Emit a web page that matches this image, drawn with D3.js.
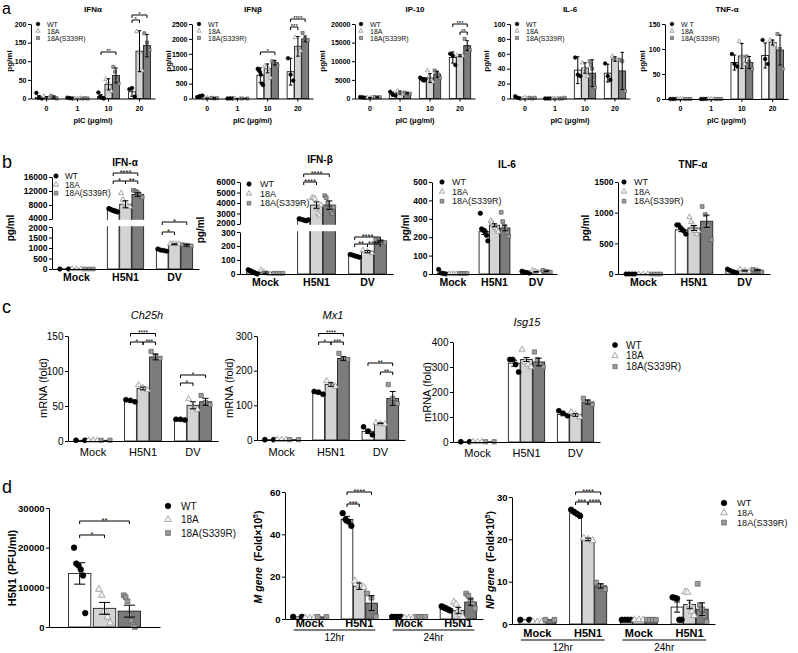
<!DOCTYPE html>
<html><head><meta charset="utf-8">
<script src="https://cdn.jsdelivr.net/npm/d3@7"></script>
<style>body{margin:0;background:#fff}svg{display:block}text{font-family:'Liberation Sans',Arial,Helvetica,sans-serif}</style>
</head><body><svg id="c" width="798" height="653"></svg>
<script>
// ---------- shared ----------
const seriesNames = ["WT","18A","18A(S339R)"];
const seriesNamesTNF = ["W T","18A","18A(S339R)"];
const groupsA = ["0","1","10","20"];
const groupsB = ["Mock","H5N1","DV"];
const groupsD1 = ["H5N1"];
const groupsD2 = ["Mock 12hr","H5N1 12hr","Mock 24hr","H5N1 24hr"];
const groupLabelsD2 = ["Mock","H5N1","Mock","H5N1"];
const timeLabels = ["12hr","24hr"];

// ---------- tick labels ----------
const ticksA1 = [0,50,100,150,200];
const ticksA2 = [0,500,1000,1500,2000,2500];
const ticksA3 = [0,5000,10000,15000,20000];
const ticksA4 = [0,20,40,60,80,100];
const ticksA5 = [0,50,100,150];
const ticksB1lo = [0,500,1000,1500,2000], ticksB1hi = [4000,8000,12000,16000];
const ticksB2lo = [0,100,200,300], ticksB2hi = [2000,3000,4000,5000,6000];
const ticksB3 = [0,100,200,300,400,500];
const ticksB4 = [0,500,1000,1500];
const ticksC1 = [0,50,100,150];
const ticksC2 = [0,100,200,300];
const ticksC3 = [0,100,200,300,400];
const ticksD1 = [0,10000,20000,30000];
const ticksD2 = [0,20,40,60];
const ticksD3 = [0,10,20,30];

// ---------- data: [group][series] ----------
const a1Mean = [[3,3,4],[1,0.5,0.5],[5,38,62],[18,127,142]];
const a1Err  = [[5,2,3],[1,0,0],[5,15,20],[12,55,30]];
const a1Pts  = [[[15,2,0],[6,0,2],[7,2,0]],[[2,1,0],[0,0,1],[0,1,0]],[[16,5,2,0],[52,45,30,20],[85,72,50,40]],[[25,28,5],[180,125,75],[175,150,130]]];

const a2Mean = [[65,8,12],[5,2,2],[780,1010,1200],[900,1750,2000]];
const a2Err  = [[25,10,10],[3,2,2],[250,150,80],[450,330,100]];
const a2Pts  = [[[50,80,100],[0,20,0],[20,0,10]],[[0,5,0],[0,0],[0,0]],[[1000,950,900,800,500,450],[1100,1050,1000,700],[1250,1200,1150,1100]],[[1350,800,600],[2050,1700,1600],[2200,2000,1950]]];

const a3Mean = [[300,200,350],[1200,1600,1400],[5200,5500,6500],[11000,11500,14200]];
const a3Err  = [[100,80,100],[500,400,200],[400,1200,800],[1500,200,1300]];
const a3Pts  = [[[400,300,200],[200,150,250],[400,300,350]],[[1800,1000,800],[2000,1500,1200],[1600,1300,1300]],[[5600,5300,5000,4800,5200],[7500,6000,5000,4500],[7500,7000,6500,5500]],[[12000,11500,9000],[11600,11400,11500],[16000,13500,13000]]];

const a4Mean = [[1,0.5,0.5],[0.5,0.5,0.5],[38,41,34],[34,53,37]];
const a4Err  = [[1,0,0],[0,0,0],[18,7,18],[12,3,25]];
const a4Pts  = [[[3,1,0],[0,1,0],[1,0,1]],[[0,0,0],[0,0,0],[0,0,1]],[[55,32,30],[48,40,35,30],[50,45,40,25,15]],[[47,30,25],[57,52,52],[52,50,10]]];

const a5Mean = [[0.5,0.5,0.5],[0.5,0.5,0.5],[73,86,73],[87,113,98]];
const a5Err  = [[0,0,0],[0,0,0],[15,25,12],[25,5,30]];
const a5Pts  = [[[0,0,0],[0,0,0],[0,0,0]],[[0,0,0],[0,0,0],[0,0,0]],[[90,70,65],[115,85,70],[85,75,60]],[[118,80,70],[118,115,108],[130,100,60]]];

const b1Mean = [[10,10,10],[6500,8200,11000],[880,1180,1130]];
const b1Err  = [[0,0,0],[300,1000,500],[40,20,40]];
const b1Pts  = [[[0,0],[0,0,0],[0,0,0]],[[7000,6800,6600,6400,6300,6200,6000],[11400,9500,8500,8000,7600,7500],[12200,12000,11800,11500,11000,10500,10200]],[[950,900,880,850],[1200,1200,1200,1190],[1160,1140,1120,1100]]];

const b2Mean = [[15,10,5],[2400,3800,3800],[130,160,235]];
const b2Err  = [[4,5,0],[60,300,400],[5,8,6]];
const b2Pts  = [[[30,25,20,15,10,5,0],[30,15,5,0],[5,5,5,5]],[[2500,2450,2400,2350,2300,2400],[4500,4500,4400,3500,3000,2800,3800],[4700,4500,4000,3500,3200,3000,3600]],[[140,135,130,125,120],[170,160,150],[245,240,230,225]]];

const b3Mean = [[5,2,3],[230,265,250],[10,12,15]];
const b3Err  = [[3,0,0],[15,8,15],[2,2,2]];
const b3Pts  = [[[25,5,3,0],[0,0,0,0],[3,3,3,3]],[[330,245,240,235,230,210,180],[290,280,270,260,250,240,230],[335,285,260,240,225,205]],[[15,10,8,5],[20,15,10,5],[20,15,12,10]]];

const b4Mean = [[2,2,2],[720,750,860],[50,55,60]];
const b4Err  = [[0,0,0],[30,40,100],[10,8,8]];
const b4Pts  = [[[0,0,0,0],[0,0,0],[0,0,0,0]],[[800,800,760,720,700,650],[930,850,800,700,650,700],[1100,970,800,560]],[[80,60,40,30,20],[80,60,40],[75,65,50,30]]];

const c1Mean = [[1,1,1],[57,75,120],[30,51,56]];
const c1Err  = [[0,0,0],[1,2,4],[1,5,5]];
const c1Pts  = [[[1,1],[1,1,1],[1,1]],[[59,58,56],[80,76,73],[128,122,118]],[[31,31,30],[60,48,45],[65,55,52]]];

const c2Mean = [[1,1,1],[135,160,235],[25,48,120]];
const c2Err  = [[0,0,0],[2,5,5],[6,1,20]];
const c2Pts  = [[[1,1],[1,1,1],[1,1]],[[140,138,132],[170,160,155],[250,235,232]],[[38,25,15],[50,47,46],[160,120,105]]];

const c3Mean = [[1,1,1],[315,330,320],[110,108,160]];
const c3Err  = [[0,0,0],[12,8,15],[5,5,8]];
const c3Pts  = [[[1,1],[1,1,1],[1,1]],[[330,330,310,280],[370,320,310,300],[360,330,310,300]],[[125,115,105],[120,110,100],[175,160,150]]];

const d1Mean = [[13500,4700,4000]];
const d1Err  = [[2700,1500,1500]];
const d1Pts  = [[[20000,16000,15500,14500,13000,3500],[9500,8000,4000,2500,1000],[8000,7500,6500,3000,1500,500,0]]];

const d2Mean = [[1,0.5,1],[47,15.5,7.5],[1,0.5,1],[4.5,4,8]];
const d2Err  = [[0,0,0],[1.5,1.5,3.5],[0,0,0],[0.5,1.5,1.5]];
const d2Pts  = [[[1,1],[0.5,0.5,0.5],[1,1]],[[50,47,46,44],[18,16,15],[12,10,1]],[[1,1,1,1],[0.5,0.5,0.5],[1,1,1,1]],[[6,5.5,5,4.5,4],[8,7,4,2,1],[12,11,9,7,5]]];

const d3Mean = [[1,0.5,1],[26.2,20,9],[1,0.8,1],[4,4.6,3.5]];
const d3Err  = [[0,0,0],[0.4,0.3,0.5],[0,0,0],[1.2,1,1.5]];
const d3Pts  = [[[1,1],[0.5,0.5,0.5],[1,1]],[[27,26.5,26,25.5],[20.3,20,19.7],[9.8,9,8.2]],[[1,1,1,1],[1,1,1],[1,1,1,1]],[[6.3,6.2,6,1,1],[7.6,7.5,4.5,3,2],[9.5,4.5,3.5,2,0.5]]];

// ---------- styles ----------
const svg = d3.select("#c");
const fills = ["#ffffff","#d4d4d4","#7c7c7c"];
const mFill = ["#000000","#f4f4f4","#9c9c9c"];
const mStroke = ["#000000","#8a8a8a","#5a5a5a"];
const symTypes = [d3.symbolCircle, d3.symbolTriangle, d3.symbolSquare];

function marker(g, si, x, y, r){
  const area = si===0 ? Math.PI*r*r : (si===1 ? r*r*2.6 : r*r*2.9);
  g.append("path").attr("d", d3.symbol().type(symTypes[si]).size(area)())
    .attr("transform",`translate(${x},${y})`)
    .attr("fill",mFill[si]).attr("stroke",mStroke[si]).attr("stroke-width",0.7);
}

function panel(c){
  const g = svg.append("g");
  const xb = d3.scaleBand().domain(c.groups).range([c.x0,c.x1]).paddingInner(c.pad).paddingOuter(c.po ?? c.pad/2);
  const xs = d3.scaleBand().domain([0,1,2]).range([0,xb.bandwidth()]).paddingInner(c.ipad ?? 0.05);
  let y, axList;
  if (c.lo){
    const lo = d3.scaleLinear().domain(c.lo).range(c.loR);
    const hi = d3.scaleLinear().domain(c.hi).range(c.hiR);
    y = v => v <= c.lo[1] ? lo(v) : (v >= c.hi[0] ? hi(v) : c.loR[1]);
    axList = [[lo,c.loT,1.2],[hi,c.hiT,-1.2]];
  } else {
    const s = d3.scaleLinear().domain([0,c.max]).range([c.yb,c.yt]);
    y = s; axList = [[s,c.ticks,0]];
  }
  const y0 = y(0);
  const bw = xs.bandwidth();
  const cx = (gi,si) => xb(c.groups[gi]) + xs(si) + bw/2;

  c.groups.forEach((grp,gi)=>{
    [0,1,2].forEach(si=>{
      const m = c.mean[gi][si];
      g.append("rect").attr("x",xb(grp)+xs(si)).attr("y",y(m))
        .attr("width",bw).attr("height",Math.max(0.1,y0-y(m)))
        .attr("fill",fills[si]).attr("stroke","#222").attr("stroke-width",c.bsw ?? 0.9);
    });
  });
  if (c.lo){
    g.append("rect").attr("x",c.x0+1).attr("y",c.hiR[0]+0.8)
      .attr("width",c.x1-c.x0).attr("height",c.loR[1]-c.hiR[0]-1.6).attr("fill","#fff");
  }
  c.groups.forEach((grp,gi)=>{
    [0,1,2].forEach(si=>{
      const p = c.pts[gi][si], n = p.length;
      const sp = n>1 ? bw*(c.spread ?? 0.75) : 0;
      p.forEach((v,i)=>{
        const dx = n>1 ? -sp/2 + sp*i/(n-1) : 0;
        marker(g,si,cx(gi,si)+dx,y(v),c.r);
      });
    });
  });
  c.groups.forEach((grp,gi)=>{
    [0,1,2].forEach(si=>{
      const m = c.mean[gi][si], e = c.err[gi][si];
      if (!e) return;
      const x = cx(gi,si), yt = y(m+e), ybt = y(Math.max(0,m-e)), cw = bw*0.25;
      g.append("path").attr("d",`M${x},${ybt}V${yt}M${x-cw},${yt}H${x+cw}M${x-cw},${ybt}H${x+cw}`)
        .attr("stroke","#000").attr("stroke-width",1).attr("fill","none");
    });
  });
  axList.forEach(([s,t,nudge])=>{
    const ax = g.append("g").attr("transform",`translate(${c.x0},0)`)
      .call(d3.axisLeft(s).tickValues(t).tickSize(3).tickSizeOuter(0).tickPadding(1.5).tickFormat(d3.format("d")));
    ax.select(".domain").attr("stroke","#000").attr("stroke-width",1);
    ax.selectAll(".tick line").attr("stroke","#000");
    ax.selectAll("text").attr("font-size",c.tfs).attr("font-weight",c.tfw).attr("fill","#000")
      .style("font-family","'Liberation Sans',Arial,sans-serif");
    if (nudge){
      const edge = nudge > 0 ? t[t.length-1] : t[0];
      ax.selectAll(".tick").filter(d=>d===edge).select("text").attr("y", nudge);
    }
  });
  const xa = g.append("g").attr("transform",`translate(0,${y0})`)
    .call(d3.axisBottom(xb).tickSize(c.xt ?? 0).tickSizeOuter(0).tickFormat(""));
  xa.select(".domain").attr("stroke","#000").attr("stroke-width",1);
  xa.selectAll(".tick line").attr("stroke","#000");
  if (c.glabels){
    c.groups.forEach((grp,gi)=>{
      g.append("text").attr("x",xb(grp)+xb.bandwidth()/2).attr("y",c.xlY).attr("text-anchor","middle")
        .attr("font-size",c.xfs).attr("font-weight",c.xfw).text(c.glabels[gi]);
    });
  }
  if (c.xtitle){
    g.append("text").attr("x",(c.x0+c.x1)/2).attr("y",c.xtY).attr("text-anchor","middle")
      .attr("font-size",c.xtfs).attr("font-weight","bold").text(c.xtitle);
  }
  if (c.times){
    c.times.forEach((lab,k)=>{
      const ga = c.groups[2*k], gb = c.groups[2*k+1];
      const xA = xb(ga)+2, xB = xb(gb)+xb.bandwidth()-2;
      g.append("line").attr("x1",xA).attr("x2",xB).attr("y1",c.ulY).attr("y2",c.ulY).attr("stroke","#000").attr("stroke-width",1.2);
      g.append("text").attr("x",(xA+xB)/2).attr("y",c.tlY).attr("text-anchor","middle").attr("font-size",c.tlfs).text(lab);
    });
  }
  if (c.title){
    g.append("text").attr("x",c.tx).attr("y",c.ty).attr("text-anchor","middle")
      .attr("font-size",c.ttfs).attr("font-weight",c.ttw||"normal").attr("font-style",c.ttst||"normal").text(c.title);
  }
  if (c.ylab){
    const yl = g.append("text").attr("transform",`translate(${c.ylx},${c.yly}) rotate(-90)`)
      .attr("text-anchor","middle").attr("font-size",c.ylfs).attr("font-weight",c.ylw||"normal").attr("dy","0.35em");
    c.ylab.forEach(s=>{
      const ts = yl.append("tspan").text(s.t);
      if (s.i) ts.attr("font-style","italic");
      if (s.sup) ts.attr("dy",-4).attr("font-size",c.ylfs*0.65);
      if (s.down) ts.attr("dy",4);
    });
  }
  (c.sig||[]).forEach(([gi,s1,s2,yy,lab])=>{
    const xA = cx(gi,s1), xB = cx(gi,s2);
    g.append("path").attr("d",`M${xA},${yy+3}V${yy}H${xB}V${yy+3}`).attr("fill","none").attr("stroke","#000").attr("stroke-width",1);
    g.append("text").attr("x",(xA+xB)/2).attr("y",yy-1+0.4*c.sfs).attr("text-anchor","middle").attr("font-size",c.sfs).text(lab);
  });
  if (c.leg){
    const L = c.leg, names = c.legNames || seriesNames;
    names.forEach((nm,si)=>{
      marker(g,si,L.x,L.y+si*L.dy,L.r ?? c.r);
      g.append("text").attr("x",L.tx).attr("y",L.y+si*L.dy).attr("dy","0.36em")
        .attr("font-size",L.fs ?? c.lfs).attr("fill","#111").text(nm);
    });
  }
}

// ---------- layout ----------
const rowA = {pad:0.29, xt:3, tfs:7, tfw:"bold", xfs:7, xfw:"bold", xlY:110.5, r:1.8, ttfs:8, ttw:"bold", ty:12,
  ylfs:8, ylw:"bold", yly:61, ylab:[{t:"pg/ml"}], xtitle:"pIC (μg/ml)", xtY:123, xtfs:7.5, sfs:6, lfs:7, glabels:groupsA, groups:groupsA, yb:98.5, yt:24};
const rowB = {pad:0.26, xt:0, tfs:8.5, tfw:"bold", xfs:10.5, xfw:"bold", r:2.2, ttfs:10, ttw:"bold",
  ylfs:10, ylw:"bold", ylab:[{t:"pg/ml"}], sfs:7.5, lfs:9, glabels:groupsB, groups:groupsB};
const rowC = {pad:0.26, xt:0, tfs:10, tfw:"normal", xfs:11, xfw:"normal", r:2.5, ttfs:11, ttst:"italic",
  ylfs:11, ylab:[{t:"mRNA (fold)"}], sfs:6.5, lfs:10, glabels:groupsB, groups:groupsB};
const rowD = {tfs:9.5, tfw:"bold", xfs:11, xfw:"bold", r:2.8, sfs:7.5, lfs:10, tlfs:10};

const panels = [
  {...rowA, mean:a1Mean, err:a1Err, pts:a1Pts, x0:31, x1:155, max:200, ticks:ticksA1, title:"IFNα", tx:93, ylx:9,
    leg:{x:38,tx:47,y:24,dy:7}, sig:[[2,0,2,52,"**"],[3,0,2,15,"*"],[3,0,1,20,"*"]]},
  {...rowA, mean:a2Mean, err:a2Err, pts:a2Pts, x0:192, x1:313, max:2500, ticks:ticksA2, title:"IFNβ", tx:253, ylx:168,
    leg:{x:199,tx:208,y:24,dy:7}, sig:[[2,0,2,52,"*"],[3,0,2,19,"****"],[3,0,1,27,"***"]]},
  {...rowA, mean:a3Mean, err:a3Err, pts:a3Pts, x0:355, x1:475, max:20000, ticks:ticksA3, title:"IP-10", tx:415, ylx:322,
    leg:{x:361,tx:370,y:24,dy:7}, sig:[[3,0,2,24,"***"],[3,1,2,32,"**"]]},
  {...rowA, mean:a4Mean, err:a4Err, pts:a4Pts, x0:510, x1:630, max:100, ticks:ticksA4, title:"IL-6", tx:570, ylx:486,
    leg:{x:517,tx:526,y:24,dy:7}},
  {...rowA, mean:a5Mean, err:a5Err, pts:a5Pts, x0:665, x1:788, yb:99, max:150, ticks:ticksA5, title:"TNF-α", tx:727, ylx:642,
    leg:{x:672,tx:681,y:24,dy:7}, legNames:seriesNamesTNF},

  {...rowB, mean:b1Mean, err:b1Err, pts:b1Pts, x0:52, x1:199, lo:[0,2000], loR:[269,227], hi:[4000,16000], hiR:[219,177],
    loT:ticksB1lo, hiT:ticksB1hi, title:"IFN-α", tx:125, ty:166, ylx:10, yly:228, xlY:281,
    leg:{x:56,tx:65,y:176,dy:8.6,fs:8.3}, sig:[[1,0,2,173,"****"],[1,0,1,181,"*"],[1,1,2,181,"**"],[2,0,2,222,"*"],[2,0,1,232,"*"]]},
  {...rowB, mean:b2Mean, err:b2Err, pts:b2Pts, x0:240, x1:393, lo:[0,300], loR:[274,232], hi:[2000,6000], hiR:[224,182],
    loT:ticksB2lo, hiT:ticksB2hi, title:"IFN-β", tx:320, ty:163, ylx:200, yly:230, xlY:286,
    leg:{x:249,tx:260,y:184,dy:9.6}, sig:[[1,0,2,174,"****"],[1,0,1,182,"****"],[2,0,2,237,"****"],[2,0,1,244,"**"],[2,1,2,244,"****"]]},
  {...rowB, mean:b3Mean, err:b3Err, pts:b3Pts, x0:432, x1:557, yb:274, yt:182, max:500, ticks:ticksB3, title:"IL-6", tx:507, ty:168,
    ylx:405, yly:228, xlY:286, leg:{x:442,tx:452,y:182,dy:9.6}},
  {...rowB, mean:b4Mean, err:b4Err, pts:b4Pts, x0:618, x1:770, yb:274, yt:182, max:1500, ticks:ticksB4, title:"TNF-α", tx:693, ty:168,
    ylx:585, yly:228, xlY:286, leg:{x:624,tx:634,y:182,dy:9.6}},

  {...rowC, mean:c1Mean, err:c1Err, pts:c1Pts, x0:68, x1:218, yb:441, yt:336, max:150, ticks:ticksC1, title:"Ch25h", tx:147, ty:319,
    ylx:43, yly:388, xlY:456, sig:[[1,0,2,333.5,"****"],[1,0,1,342,"*"],[1,1,2,342,"***"],[2,0,2,375,"*"],[2,0,1,383,"*"]]},
  {...rowC, mean:c2Mean, err:c2Err, pts:c2Pts, x0:257, x1:405, yb:440, yt:336, max:300, ticks:ticksC2, title:"Mx1", tx:333, ty:319,
    ylx:229, yly:388, xlY:456, sig:[[1,0,2,333.5,"****"],[1,0,1,342,"*"],[1,1,2,342,"***"],[2,0,2,363,"**"],[2,1,2,372,"**"]]},
  {...rowC, mean:c3Mean, err:c3Err, pts:c3Pts, x0:453, x1:600, yb:442, yt:342, max:400, ticks:ticksC3, title:"Isg15", tx:527, ty:326,
    ylx:427, yly:392, xlY:457, leg:{x:615,tx:626,y:345,dy:10.8}},

  {...rowD, groups:groupsD1, pad:0, po:0.27, ipad:0.1, mean:d1Mean, err:d1Err, pts:d1Pts, x0:49, x1:160, yb:627, yt:508, max:30000, ticks:ticksD1,
    ylx:12, yly:568, ylfs:11, ylw:"bold", ylab:[{t:"H5N1 (PFU/ml)"}], spread:0.5,
    leg:{x:168,tx:181,y:506,dy:13.5}, sig:[[0,0,1,535,"*"],[0,0,2,521,"**"]]},
  {...rowD, groups:groupsD2, glabels:groupLabelsD2, pad:0.27, mean:d2Mean, err:d2Err, pts:d2Pts, x0:285, x1:483, yb:619, yt:492, max:60, ticks:ticksD2,
    xlY:627, ulY:630, tlY:641, times:timeLabels,
    ylx:258, yly:557, ylfs:10.5, ylw:"bold", ylab:[{t:"M gene",i:true},{t:"\u00a0\u00a0(Fold×10"},{t:"5",sup:true},{t:")",down:true}],
    sig:[[1,0,2,492,"****"],[1,0,1,504,"***"]]},
  {...rowD, groups:groupsD2, glabels:groupLabelsD2, pad:0.27, mean:d3Mean, err:d3Err, pts:d3Pts, x0:512, x1:715, yb:624, yt:497, max:30, ticks:ticksD3,
    xlY:637, ulY:640, tlY:651, times:timeLabels,
    ylx:490, yly:560, ylfs:10.5, ylw:"bold", ylab:[{t:"NP gene",i:true},{t:"\u00a0\u00a0(Fold×10"},{t:"5",sup:true},{t:")",down:true}],
    leg:{x:724,tx:737,y:503,dy:9.8,fs:9.2}, sig:[[1,0,2,492,"****"],[1,0,1,502,"***"],[1,1,2,502,"****"]]}
];
panels.forEach(panel);

// panel letters
[["a",2,14,16],["b",2,168,18],["c",2,313,18],["d",2,493,18]].forEach(([t,x,yy,fs])=>{
  svg.append("text").attr("x",x).attr("y",yy).attr("font-size",fs).text(t);
});
</script></body></html>
